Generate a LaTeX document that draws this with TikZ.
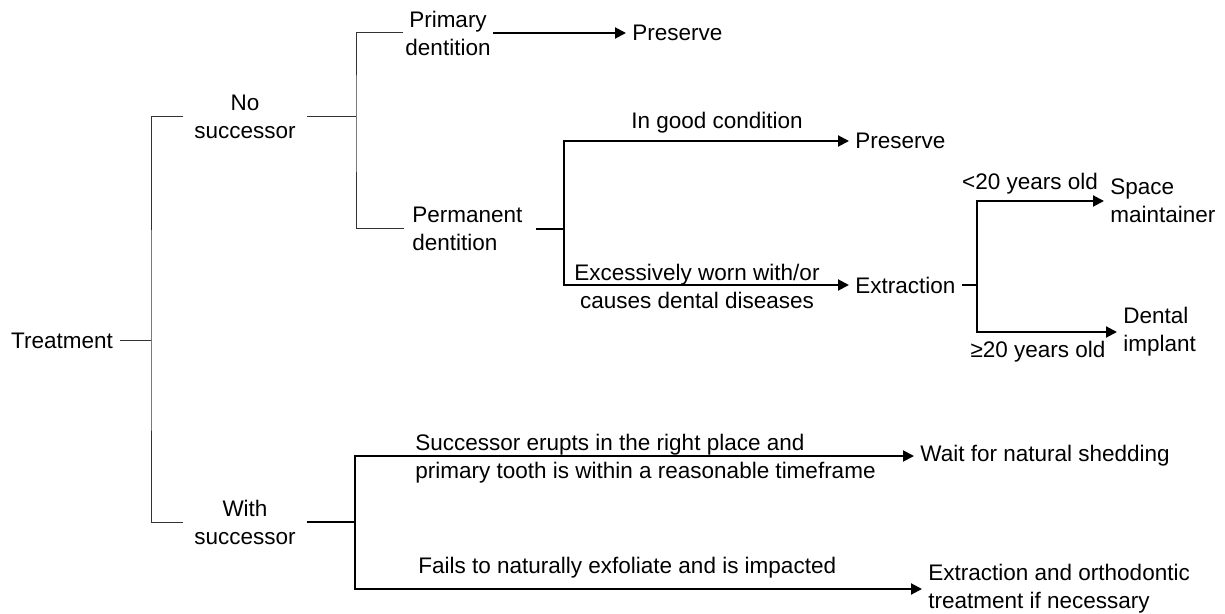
\documentclass[tikz,border=0pt]{standalone}
\usepackage{fontspec}
\setmainfont{Liberation Sans}
\usepackage{tikz}
\usetikzlibrary{positioning,arrows.meta}
\definecolor{clinea}{HTML}{333333}
\tikzset{
  txt/.style={font=\fontsize{11.25}{14}\selectfont, inner sep=1pt, align=center},
  txtl/.style={txt, align=left, anchor=west},
  destino/.style={txtl, inner xsep=3pt},
  rama/.style={draw=clinea, line width=0.5pt},
  grueso/.style={draw=black, line width=1pt},
  flecha/.style={grueso, -{Triangle[length=5.5pt,width=5.5pt]}},
}

\begin{document}
\begin{tikzpicture}[x=0.5pt,y=-0.5pt]
  \useasboundingbox (0,0) rectangle (1225,614);
  % raiz
  \node[txt, inner xsep=3.5pt] (treat) at (62,341) {Treatment};
  \node[txt, inner xsep=5.5pt] (nosuc) at (245,117) {No\\successor};
  \node[txt, inner xsep=5.5pt] (consuc) at (245,522) {With\\successor};
  \coordinate (j0) at (151,341);
  \draw[rama] (treat) -- (j0);
  \draw[rama] (nosuc.west) -| (j0) |- (consuc.west);
  % sin sucesor
  \node[txt] (prim) at (448,33) {Primary\\dentition};
  \node[txtl, inner xsep=4pt, text width=57.5pt] (perm) at (404,229) {Permanent\\dentition};
  \coordinate (j1) at (356,117);
  \draw[rama] (nosuc) -- (j1);
  \draw[rama] (prim.west) -| (j1) |- (perm.west);
  \node[destino] (pres1) at (626,33) {Preserve};
  \draw[flecha] (prim) -- (pres1);
  % dentición permanente
  \coordinate (j2) at (564,229);
  \node[destino] (pres2) at (849,141) {Preserve};
  \node[destino] (extr) at (849,285) {Extraction};
  \draw[grueso] (perm) -- (j2);
  \draw[flecha] (j2) |- (pres2);
  \draw[flecha] (j2) |- (extr);
  \node[txt] (bien) at (717,123) {In good condition};
  \node[txt] (gastado) at (697,286) {Excessively worn with/or\\causes dental diseases};
  % extracción
  \coordinate (j3) at (977,285);
  \draw[grueso] (extr) -- (j3);
  \node[destino] (mant) at (1104,201) {Space\\maintainer};
  \node[destino] (impl) at (1117,332) {Dental\\implant};
  \draw[flecha] (j3) |- (mant);
  \draw[flecha] (j3) |- (impl);
  \node[txt] (menor) at (1030,184) {<20 years old};
  \node[txt] (mayor) at (1038,352) {≥20 years old};
  % con sucesor
  \coordinate (j4) at (355,522);
  \draw[grueso] (consuc) -- (j4);
  \node[destino] (espera) at (914,456) {Wait for natural shedding};
  \node[destino] (ortod) at (922,589) {Extraction and orthodontic\\treatment if necessary};
  \draw[flecha] (j4) |- (espera);
  \draw[flecha] (j4) |- (ortod);
  \node[txtl] (erupc) at (413,459) {Successor erupts in the right place and\\primary tooth is within a reasonable timeframe};
  \node[txtl] (falla) at (416,568) {Fails to naturally exfoliate and is impacted};
\end{tikzpicture}
\end{document}
